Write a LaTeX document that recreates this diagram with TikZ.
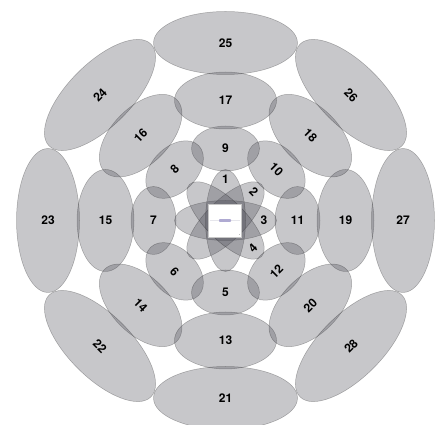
\documentclass[tikz,border=0pt]{standalone}
\usepackage{fontspec}
\setmainfont{TeX Gyre Heros}
\definecolor{ellfill}{RGB}{70,70,80}
\definecolor{blobline}{RGB}{230,230,236}
\definecolor{blob}{RGB}{175,170,210}
\tikzset{
  ell/.style={fill=ellfill, fill opacity=0.3, draw=black, draw opacity=0.28, line width=0.5pt},
  lab/.style={font=\bfseries\fontsize{12}{12}\selectfont, text=black, inner sep=0pt},
}
\begin{document}
\begin{tikzpicture}[x=1pt,y=1pt]
\useasboundingbox (0,0) rectangle (436,425);
\clip (0,0) rectangle (436,425);
\begin{scope}[shift={(225.5,204.5)}]
  % ring 1 (centred ellipses)
  \foreach \a in {0,45,90,135}
    \draw[ell, rotate=\a] (0,0) ellipse (51 and 20);
  % ring 2
  \foreach \a in {0,45,...,315}
    \draw[ell, rotate=\a] (72,0) ellipse (22.5 and 34);
  % ring 3
  \foreach \a in {0,45,...,315}
    \draw[ell, rotate=\a] (120,0) ellipse (28.5 and 51);
  % ring 4
  \foreach \a in {0,45,...,315}
    \draw[ell, rotate=\a] (177.5,0) ellipse (31.5 and 72);
  % centre picture
  \node[draw=black!22, fill=white, minimum size=33pt, inner sep=0pt, line width=0.7pt] (img) at (-0.5,0) {};
  \fill[blobline] ([xshift=1.5pt,yshift=-0.8pt]img.west) rectangle ([xshift=-1.5pt,yshift=0.8pt]img.east);
  \fill[blob, rounded corners=0.8pt] (-6.5,-1.4) rectangle (5.5,1.4);
  \fill[black!25] ([xshift=-3pt,yshift=2pt]img.south east) rectangle ([xshift=-2pt,yshift=3pt]img.south east);
  % labels ring 1
  \foreach \n/\a/\r/\d in {1/90/0/41, 2/45/-45/40, 3/0/0/38.5, 4/-45/45/39}
    \node[lab, rotate=\r] (l\n) at (\a:\d) {\n};
  % labels ring 2
  \foreach \n/\a/\r in {5/270/0, 6/225/-45, 7/180/0, 8/135/45, 9/90/0, 10/45/-45, 11/0/0, 12/-45/45}
    \node[lab, rotate=\r] (l\n) at (\a:72) {\n};
  % labels ring 3
  \foreach \n/\a/\r in {13/270/0, 14/225/-45, 15/180/0, 16/135/45, 17/90/0, 18/45/-45, 19/0/0, 20/-45/45}
    \node[lab, rotate=\r] (l\n) at (\a:120) {\n};
  % labels ring 4
  \foreach \n/\a/\r in {21/270/0, 22/225/-45, 23/180/0, 24/135/45, 25/90/0, 26/45/-45, 27/0/0, 28/-45/45}
    \node[lab, rotate=\r] (l\n) at (\a:177.5) {\n};
\end{scope}
\end{tikzpicture}
\end{document}
